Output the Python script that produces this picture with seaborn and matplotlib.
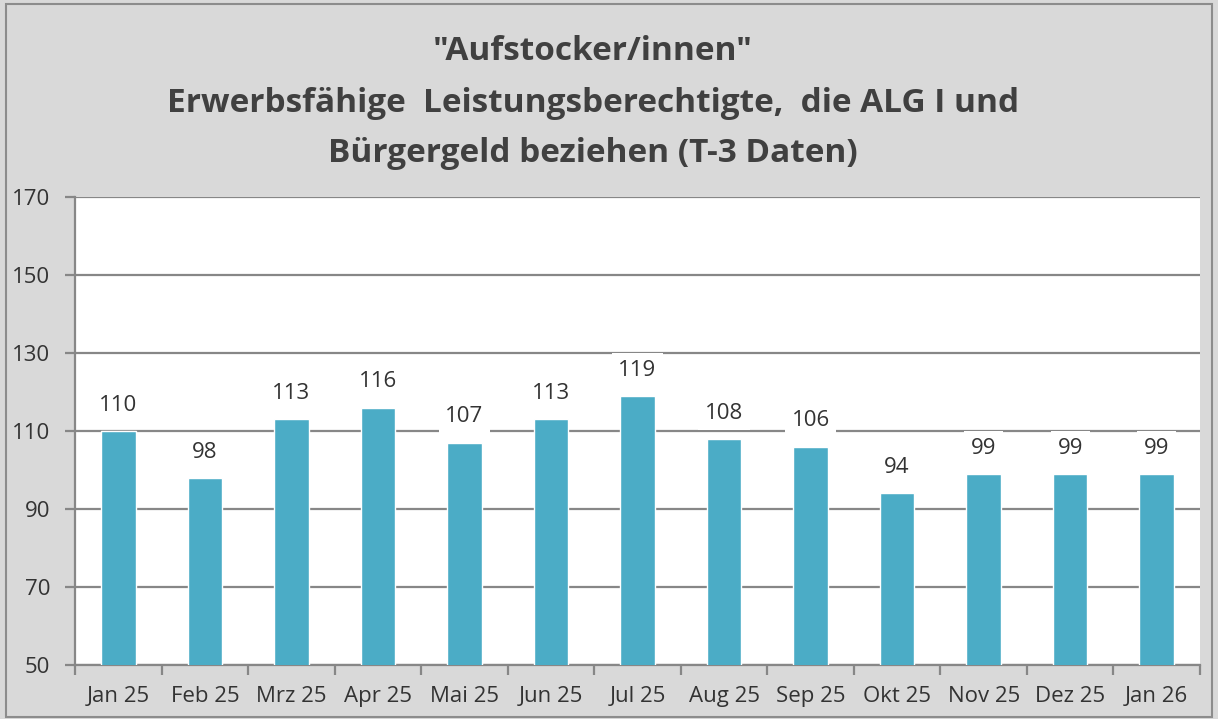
import numpy as np
import matplotlib.pyplot as plt
import matplotlib.patches as mpatches
import pandas as pd
import seaborn as sns

months = ['Jan 25', 'Feb 25', 'Mrz 25', 'Apr 25', 'Mai 25', 'Jun 25', 'Jul 25',
          'Aug 25', 'Sep 25', 'Okt 25', 'Nov 25', 'Dez 25', 'Jan 26']
werte = [110, 98, 113, 116, 107, 113, 119, 108, 106, 94, 99, 99, 99]
yticks = [50, 70, 90, 110, 130, 150, 170]
titel = '"Aufstocker/innen"\nErwerbsfähige  Leistungsberechtigte,  die ALG I und\nBürgergeld beziehen (T-3 Daten)'

sns.set_theme(style='white')
plt.rcParams['font.family'] = ['Open Sans', 'DejaVu Sans']

df = pd.DataFrame({'Monat': months, 'Wert': werte})

fig = plt.figure(figsize=(12.18, 7.19), dpi=100, facecolor='#d9d9d9')
ax = fig.add_axes([0.0616, 0.0751, 0.9236, 0.6509])
ax.set_facecolor('white')

sns.barplot(data=df, x='Monat', y='Wert', color='#4bacc6', width=0.4,
            saturation=1, ax=ax, zorder=3)

ax.set_ylim(50, 170)
ax.set_xlim(-0.5, len(months) - 0.5)
ax.set_yticks(yticks)
ax.yaxis.grid(True, color='#878787', linewidth=1.6, zorder=0)
ax.set_axisbelow(True)
ax.set_xlabel('')
ax.set_ylabel('')

for s in ['top', 'right']:
    ax.spines[s].set_visible(False)
for s in ['left', 'bottom']:
    ax.spines[s].set_color('#878787')
    ax.spines[s].set_linewidth(1.6)

# Excel-style tick marks between categories
ax.set_xticks(np.arange(-0.5, len(months)), minor=True)
ax.tick_params(axis='x', which='major', length=0, pad=15, labelsize=16, colors='#333333')
ax.tick_params(axis='x', which='minor', length=7, width=1.6, color='#878787', direction='out')
ax.tick_params(axis='y', which='major', length=7, width=1.6, color='#878787',
               direction='out', labelsize=16, labelcolor='#333333', pad=11)
ax.tick_params(axis='y', left=True)
ax.tick_params(axis='x', which='minor', bottom=True)

for i, v in enumerate(werte):
    ax.annotate(str(v), (i, v), xytext=(0, 11), textcoords='offset points',
                ha='center', va='bottom', fontsize=16, color='#333333', zorder=4,
                bbox=dict(boxstyle='square,pad=0.3', fc='white', ec='none'))

fig.text(0.487, 1 - 103 / 719, titel, ha='center', va='center', fontsize=24,
         fontweight='bold', color='#404040', linespacing=1.72)

fig.patches.append(mpatches.Rectangle((0.005, 0.003), 0.99, 0.991, transform=fig.transFigure,
                                      fill=False, ec='#8c8c8c', lw=1.5, zorder=0))

fig.savefig('out.png', dpi=100, facecolor=fig.get_facecolor())
